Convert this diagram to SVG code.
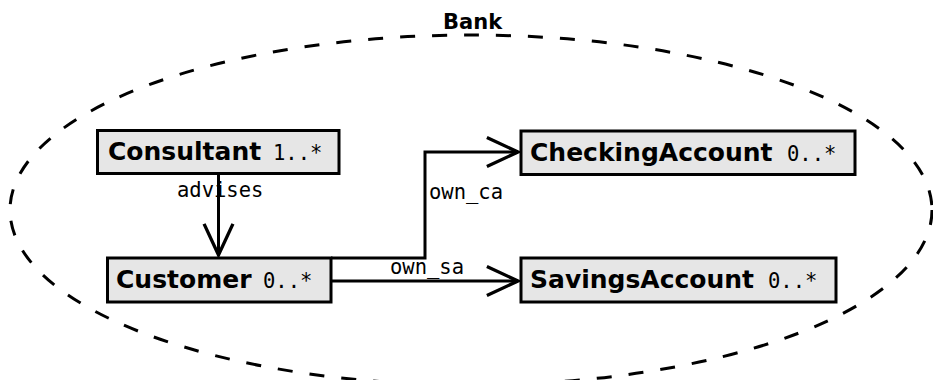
<svg xmlns="http://www.w3.org/2000/svg" width="933" height="380" viewBox="0 0 933 380">
<style>
.box{fill:#e6e6e6;stroke:#000;stroke-width:3}
.b{font-family:"DejaVu Sans",sans-serif;font-weight:bold;font-size:25px;fill:#000}
.m{font-family:"DejaVu Sans Mono",monospace;font-size:20.5px;fill:#000}
.c{fill:none;stroke:#000;stroke-width:3}
</style>
<defs>
<marker id="arr" markerUnits="userSpaceOnUse" markerWidth="40" markerHeight="40" viewBox="-32 -16 36 32" refX="0" refY="0" orient="auto">
<path d="M-28,-13 L0,0 L-28,13" fill="none" stroke="#000" stroke-width="3"/>
</marker>
</defs>
<rect width="933" height="380" fill="#fff"/>
<g id="bank">
<ellipse cx="471" cy="210" rx="461" ry="175" fill="none" stroke="#000" stroke-width="3" stroke-dasharray="15 17"/>
<text x="443" y="29" font-family="DejaVu Sans, sans-serif" font-weight="bold" font-size="21">Bank</text>
</g>
<g id="connectors">
<path class="c" d="M218.5,173 L218.5,255" marker-end="url(#arr)"/>
<path class="c" d="M331,258 L425,258 L425,152 L518,152" marker-end="url(#arr)"/>
<path class="c" d="M331,281 L518,281" marker-end="url(#arr)"/>
<text class="m" x="177" y="197">advises</text>
<text class="m" x="429" y="199">own_ca</text>
<text class="m" x="390" y="274">own_sa</text>
</g>
<g id="consultant">
<rect class="box" x="97.5" y="130.5" width="241.5" height="43"/>
<text class="b" x="108" y="160">Consultant</text>
<text class="m" x="273" y="160">1..*</text>
</g>
<g id="customer">
<rect class="box" x="107.5" y="258" width="223.5" height="44"/>
<text class="b" x="116" y="288">Customer</text>
<text class="m" x="263" y="288">0..*</text>
</g>
<g id="checkingaccount">
<rect class="box" x="521" y="131" width="334" height="43.5"/>
<text class="b" x="530" y="161">CheckingAccount</text>
<text class="m" x="787" y="161">0..*</text>
</g>
<g id="savingsaccount">
<rect class="box" x="521" y="258" width="315" height="44"/>
<text class="b" x="530" y="288">SavingsAccount</text>
<text class="m" x="768" y="288">0..*</text>
</g>
</svg>
